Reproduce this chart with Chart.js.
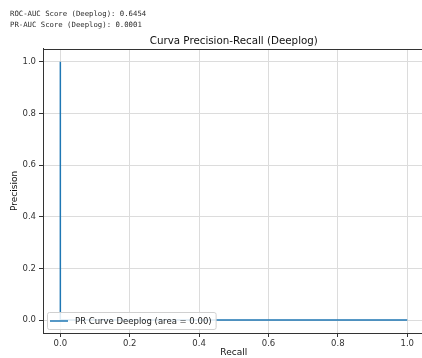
<!DOCTYPE html>
<html>
<head>
<meta charset="utf-8">
<script src="https://cdn.jsdelivr.net/npm/chart.js@4.4.1/dist/chart.umd.min.js"></script>
<style>
  html, body { margin: 0; padding: 0; background: #fff; overflow: hidden; width: 422px; height: 358px; }
  #wrap { position: relative; width: 422px; height: 358px; overflow: hidden; }
  canvas { position: absolute; left: 0; top: 0; }
</style>
</head>
<body>
<div id="wrap">
  <canvas id="c" width="440" height="358"></canvas>
</div>
<script>
// Precision-recall curve points
const recall = [1.0, 0.0, 0.0];
const precision = [0.0001, 0.0001, 1.0];
const xTicks = [0.0, 0.2, 0.4, 0.6, 0.8, 1.0];
const yTicks = [0.0, 0.2, 0.4, 0.6, 0.8, 1.0];
const seriesLabel = 'PR Curve Deeplog (area = 0.00)';
const chartTitle = 'Curva Precision-Recall (Deeplog)';
const scoreLines = [
  'ROC-AUC Score (Deeplog): 0.6454',
  'PR-AUC Score (Deeplog): 0.0001'
];

const FONT = 'DejaVu Sans';
const gridColor = '#dcdcdc';
const axisColor = '#333333';

// Printed score lines above the figure
const scoreText = {
  id: 'scoreText',
  afterDraw(chart) {
    const ctx = chart.ctx;
    ctx.save();
    ctx.font = '7.3px "DejaVu Sans Mono"';
    ctx.fillStyle = '#2a2a2a';
    ctx.textBaseline = 'middle';
    scoreLines.forEach((t, i) => ctx.fillText(t, 10, 14.5 + i * 11));
    ctx.restore();
  }
};

// Closes the frame (top and right spines) around the plot area
const frame = {
  id: 'frame',
  afterDatasetsDraw(chart) {
    const ctx = chart.ctx;
    const a = chart.chartArea;
    ctx.save();
    ctx.strokeStyle = axisColor;
    ctx.lineWidth = 1;
    ctx.beginPath();
    ctx.moveTo(a.left, Math.round(a.top) + 0.5);
    ctx.lineTo(a.right, Math.round(a.top) + 0.5);
    ctx.lineTo(a.right, a.bottom);
    ctx.stroke();
    ctx.restore();
  }
};

// Legend box drawn inside the lower-left corner of the plot area
const innerLegend = {
  id: 'innerLegend',
  afterDraw(chart) {
    const ctx = chart.ctx;
    const a = chart.chartArea;
    const ds = chart.data.datasets[0];
    ctx.save();
    ctx.font = '8.5px "' + FONT + '"';
    const tw = ctx.measureText(ds.label).width;
    const x = Math.round(a.left + 4), h = 17, y = Math.round(a.bottom - 4 - h);
    const w = 28 + tw + 4;
    ctx.fillStyle = 'rgba(255,255,255,0.85)';
    ctx.strokeStyle = '#d0d0d0';
    ctx.lineWidth = 1;
    ctx.beginPath();
    ctx.roundRect(x + 0.5, y + 0.5, w, h, 2);
    ctx.fill();
    ctx.stroke();
    ctx.strokeStyle = ds.borderColor;
    ctx.lineWidth = 1.5;
    ctx.beginPath();
    ctx.moveTo(x + 3, y + h / 2 + 0.5);
    ctx.lineTo(x + 21, y + h / 2 + 0.5);
    ctx.stroke();
    ctx.fillStyle = '#222';
    ctx.textBaseline = 'middle';
    ctx.fillText(ds.label, x + 28, y + h / 2 + 1);
    ctx.restore();
  }
};

new Chart(document.getElementById('c'), {
  type: 'scatter',
  data: {
    datasets: [{
      label: seriesLabel,
      data: recall.map((r, i) => ({ x: r, y: precision[i] })),
      showLine: true,
      borderColor: '#1f77b4',
      backgroundColor: '#1f77b4',
      borderWidth: 1.5,
      pointRadius: 0,
      tension: 0
    }]
  },
  options: {
    responsive: false,
    devicePixelRatio: 1,
    animation: false,
    layout: { padding: { top: 0, left: 0, right: 15.4, bottom: 0 } },
    plugins: {
      legend: { display: false },
      tooltip: { enabled: false },
      title: {
        display: true,
        text: chartTitle,
        fullSize: false,
        color: '#111',
        font: { family: FONT, size: 10.3, weight: 'normal' },
        padding: { top: 35.3, bottom: 1.3 }
      }
    },
    scales: {
      x: {
        type: 'linear',
        min: -0.05,
        max: 1.05,
        afterBuildTicks: s => { s.ticks = xTicks.map(v => ({ value: v })); },
        afterFit: s => { s.height = 25; },
        ticks: {
          color: '#333',
          font: { family: FONT, size: 8.5 },
          padding: 2,
          maxRotation: 0,
          callback: v => Number(v).toFixed(1)
        },
        grid: { color: gridColor, tickColor: axisColor, tickLength: 4, lineWidth: 1 },
        border: { color: axisColor, width: 1 },
        title: {
          display: true,
          text: 'Recall',
          color: '#111',
          font: { family: FONT, size: 9 },
          padding: { top: 0, bottom: 0 }
        }
      },
      y: {
        type: 'linear',
        min: -0.05,
        max: 1.05,
        afterBuildTicks: s => { s.ticks = yTicks.map(v => ({ value: v })); },
        afterFit: s => { s.width = 43; },
        ticks: {
          color: '#333',
          font: { family: FONT, size: 8.5 },
          padding: 3,
          callback: v => Number(v).toFixed(1)
        },
        grid: { color: gridColor, tickColor: axisColor, tickLength: 4, lineWidth: 1 },
        border: { color: axisColor, width: 1 },
        title: {
          display: true,
          text: 'Precision',
          color: '#111',
          font: { family: FONT, size: 9 },
          padding: { top: 9.5, bottom: 0 }
        }
      }
    }
  },
  plugins: [scoreText, frame, innerLegend]
});
</script>
</body>
</html>
